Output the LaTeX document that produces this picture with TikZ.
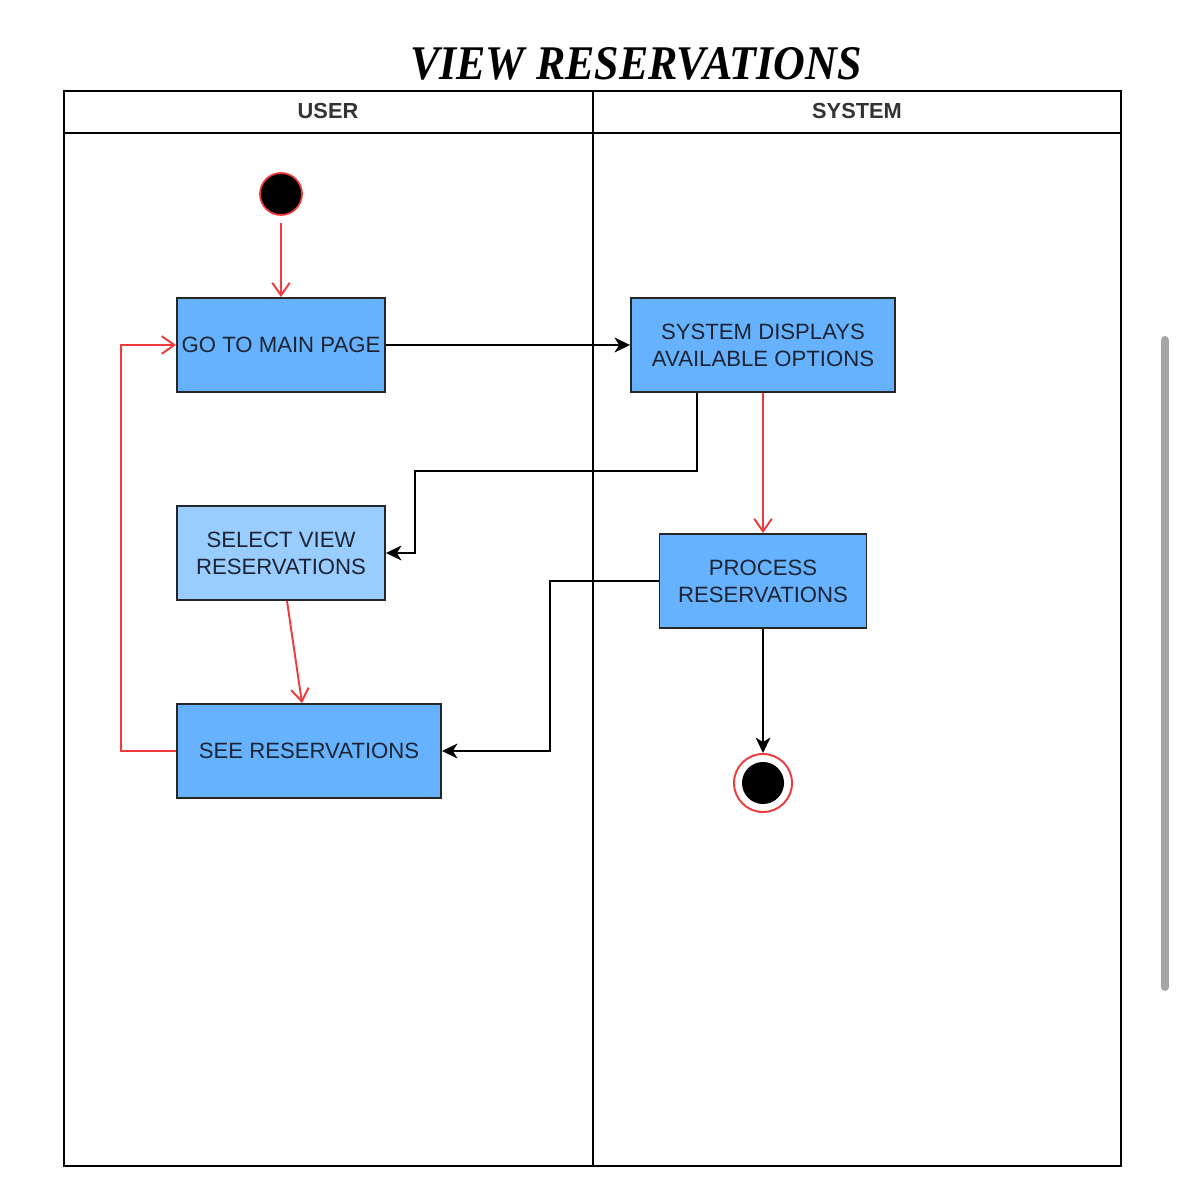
\documentclass[tikz,border=0pt]{standalone}
\usepackage{fontspec}
\setmainfont{Liberation Serif}
\setsansfont{Liberation Sans}
\usetikzlibrary{arrows.meta}

\definecolor{boxblue}{HTML}{66B2FF}
\definecolor{lightblue}{HTML}{99CCFF}
\definecolor{flowred}{HTML}{F23A3A}
\definecolor{boxtext}{HTML}{1C2433}

\tikzset{
  actbox/.style={draw=black!85, line width=0.5pt, fill=boxblue, text=boxtext,
    font=\sffamily\fontsize{6.3}{7.7}\selectfont, align=center, inner sep=0pt,
    minimum height=0.94cm},
  lanehead/.style={font=\sffamily\bfseries\fontsize{6.2}{7.5}\selectfont, text=black!80},
  redflow/.style={draw=flowred, line width=0.55pt, -{Straight Barb[length=3.6pt,width=5pt]}},
  blackflow/.style={draw=black, line width=0.55pt, -{Stealth[length=4.4pt,width=4.2pt,inset=1.3pt]}},
}

\begin{document}
\begin{tikzpicture}[x=0.01cm, y=-0.01cm]
      \useasboundingbox (0,0) rectangle (1179,1186);
      % title
      \node[yscale=1.1] (title) at (636,64) {\fontsize{12.5}{15}\selectfont\bfseries\itshape VIEW RESERVATIONS};
      % swimlanes
      \draw[line width=0.65pt] (64,91) rectangle (1121,1166);
      \draw[line width=0.65pt] (64,133) -- (1121,133);
      \draw[line width=0.65pt] (593,91) -- (593,1166);
      \node[lanehead] (user) at (328,111) {USER};
      \node[lanehead] (system) at (857,111) {SYSTEM};
      % activities
      \node[circle, fill=black, draw=flowred, line width=0.5pt, minimum size=0.42cm, inner sep=0pt] (start) at (281,194) {};
      \node[actbox, minimum width=2.08cm] (mainpage) at (281,345) {GO TO MAIN PAGE};
      \node[actbox, minimum width=2.64cm] (displays) at (763,345) {SYSTEM DISPLAYS\\AVAILABLE OPTIONS};
      \node[actbox, fill=lightblue, minimum width=2.08cm] (selectview) at (281,553) {SELECT VIEW\\RESERVATIONS};
      \node[actbox, minimum width=2.07cm] (process) at (763,581) {PROCESS\\RESERVATIONS};
      \node[actbox, minimum width=2.64cm] (seeres) at (309,751) {SEE RESERVATIONS};
      \node[circle, fill=white, draw=flowred, line width=0.55pt, minimum size=0.58cm, inner sep=0pt] (stop) at (763,783) {};
      \node[circle, fill=black, minimum size=0.42cm, inner sep=0pt] (stopdot) at (stop) {};
      % flows
      \draw[redflow, shorten <=0.07cm] (start) -- (mainpage);
      \draw[blackflow] (mainpage) -- (displays);
      \draw[blackflow] ([xshift=-0.66cm]displays.south) |- (415,471) |- (selectview.east);
      \draw[redflow] (displays) -- (process);
      \draw[redflow] ([xshift=0.06cm]selectview.south) -- ([xshift=-0.07cm]seeres.north);
      \draw[blackflow] (process.west) -- (550,581) |- (seeres.east);
      \draw[blackflow] (process) -- (stop);
      \draw[redflow] (seeres.west) -- (121,751) |- (mainpage.west);
      % scroll bar
      \draw[gray!70, line width=2.3pt, line cap=round] (1165,340) -- (1165,987);
    \end{tikzpicture}
\end{document}
